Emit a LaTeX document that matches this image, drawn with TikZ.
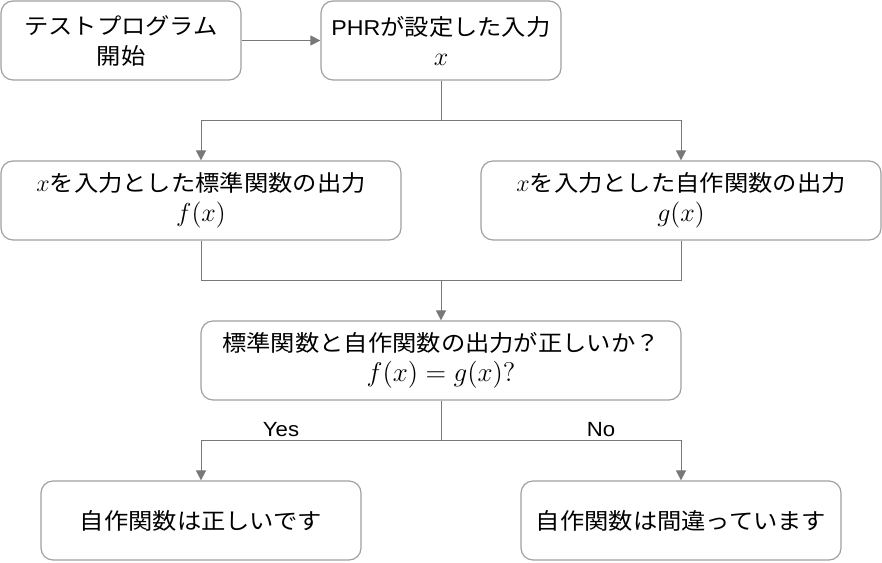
\documentclass[tikz,border=0pt]{standalone}
\usepackage[no-math]{fontspec}
\setmainfont{Liberation Sans}[FakeStretch=1.08]
\newfontfamily\jp{Noto Sans CJK JP}[FakeStretch=1.08]
\DeclareFontShape{OML}{cmm}{m}{it}{<->cmmi12}{}
\DeclareFontShape{OT1}{cmr}{m}{n}{<->cmr12}{}
\DeclareFontShape{OMS}{cmsy}{m}{n}{<->cmsy10}{}
\DeclareFontShape{OMX}{cmex}{m}{n}{<->cmex10}{}
\newcommand\mth[2]{{\fontsize{#1}{30}\selectfont$#2$}}
\usetikzlibrary{arrows.meta}
\definecolor{boxline}{RGB}{160,160,160}
\definecolor{conn}{RGB}{120,120,120}
\begin{document}
\begin{tikzpicture}[x=1pt,y=-1pt,
  box/.style={draw=boxline,line width=1.2pt,rounded corners=12pt,rectangle,
    inner sep=0pt,align=center,font=\fontsize{22.5}{30}\selectfont},
  conline/.style={draw=conn,line width=1pt},
  arr/.style={conline,-{Triangle[length=10pt,width=10pt]}},
  lbl/.style={inner sep=0pt,font=\fontsize{20.5}{25}\selectfont,text=black}]
\useasboundingbox (0,0) rectangle (882,562);
\node[box,minimum width=240pt,minimum height=79pt] (b1) at (121,40.5)
  {{\jp テストプログラム}\\{\jp 開始}};
\node[box,minimum width=240pt,minimum height=79pt] (b2) at (441,40.5)
  {{\fontsize{21.5}{30}\selectfont PHR}{\jp が設定した入力}\\\mth{26}{x}};
\node[box,minimum width=400pt,minimum height=79pt] (b3) at (201,200.5)
  {\mth{24}{x}{\jp を入力とした標準関数の出力}\\\mth{26}{f(x)}};
\node[box,minimum width=400pt,minimum height=79pt] (b4) at (681,200.5)
  {\mth{24}{x}{\jp を入力とした自作関数の出力}\\\mth{26}{g(x)}};
\node[box,minimum width=480pt,minimum height=79pt] (b5) at (441,360.5)
  {{\jp 標準関数と自作関数の出力が正しいか？}\\\mth{27}{f(x)=g(x)?}};
\node[box,minimum width=320pt,minimum height=79pt] (b6) at (201,520.5)
  {{\jp 自作関数は正しいです}};
\node[box,minimum width=320pt,minimum height=79pt] (b7) at (681,520.5)
  {{\jp 自作関数は間違っています}};
\coordinate (j1) at (441,120);
\coordinate (j2) at (441,280);
\coordinate (j3) at (441,440);
\draw[arr] (b1) -- (b2);
\draw[conline] (b2.south) -- (j1);
\draw[arr] (j1) -| (b3.north);
\draw[arr] (j1) -| (b4.north);
\draw[conline] (b3.south) |- (j2);
\draw[conline] (b4.south) |- (j2);
\draw[arr] (j2) -- (b5.north);
\draw[conline] (b5.south) -- (j3);
\draw[arr] (j3) -| (b6.north);
\draw[arr] (j3) -| (b7.north);
\node[lbl] (yes) at (281,430) {Yes};
\node[lbl] (no) at (601,430) {No};
\end{tikzpicture}
\end{document}
